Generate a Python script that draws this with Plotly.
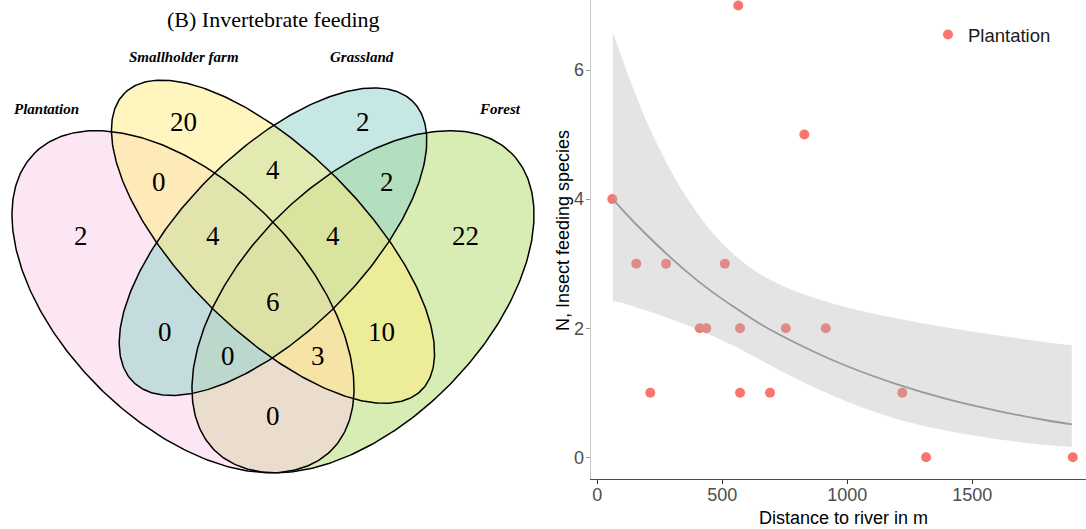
import numpy as np
import plotly.graph_objects as go

# ---------------- Venn diagram data ----------------
venn_title = "(B) Invertebrate feeding"
set_names = ["Plantation", "Smallholder farm", "Grassland", "Forest"]
# region counts (one per region of the four-set Venn)
region_counts = [20, 2, 0, 4, 2, 2, 4, 6, 4, 22, 0, 0, 0, 3, 10]

# ---------------- Scatter data ----------------
distance_m = [60, 156, 275, 510, 564, 828, 410, 436, 571, 754, 914, 212, 571, 691, 1220, 1315, 1902]
n_species = [4, 3, 3, 3, 7, 5, 2, 2, 2, 2, 2, 1, 1, 1, 1, 0, 0]

fit_x = [62, 150, 250, 350, 450, 550, 650, 800, 1000, 1200, 1400, 1600, 1800, 1898]
fit_y = [4.00, 3.63, 3.25, 2.90, 2.59, 2.32, 2.07, 1.76, 1.41, 1.13, 0.90, 0.72, 0.57, 0.51]

band_x = [62, 100, 150, 200, 275, 350, 450, 550, 650, 800, 1000, 1200, 1400, 1600, 1800, 1898]
band_upper = [6.58, 6.17, 5.65, 5.18, 4.58, 4.07, 3.53, 3.13, 2.84, 2.56, 2.32, 2.15, 2.01, 1.89, 1.78, 1.74]
band_lower = [2.42, 2.39, 2.33, 2.27, 2.17, 2.06, 1.90, 1.72, 1.51, 1.21, 0.86, 0.59, 0.41, 0.28, 0.19, 0.16]

x_ticks = [0, 500, 1000, 1500]
y_ticks = [0, 2, 4, 6]

# ---------------- Venn geometry (layout constants) ----------------
# ellipse: centre x, centre y, semi-major, semi-minor, rotation (deg)
ELL = {
    "Plantation": (0.35, 0.47, 0.35, 0.20, 135),
    "Smallholder farm": (0.50, 0.57, 0.35, 0.15, 135),
    "Grassland": (0.50, 0.57, 0.33, 0.15, 45),
    "Forest": (0.65, 0.47, 0.35, 0.20, 45),
}
FILL = {
    "Plantation": "rgba(251,205,231,0.5)",
    "Smallholder farm": "rgba(255,235,125,0.5)",
    "Grassland": "rgba(141,209,201,0.5)",
    "Forest": "rgba(177,219,105,0.5)",
}
DRAW_ORDER = ["Forest", "Plantation", "Grassland", "Smallholder farm"]
REGION_POS = [(0.35, 0.77), (0.65, 0.77), (0.31, 0.67), (0.50, 0.69), (0.69, 0.67),
              (0.18, 0.58), (0.40, 0.58), (0.50, 0.47), (0.60, 0.58), (0.82, 0.58),
              (0.32, 0.42), (0.425, 0.38), (0.50, 0.28), (0.575, 0.38), (0.68, 0.42)]
LABEL_POS = [(0.122, 0.791), (0.351, 0.878), (0.649, 0.878), (0.878, 0.791)]


def ellipse(cx, cy, a, b, rot):
    t = np.linspace(0, 2 * np.pi, 361)
    th = np.deg2rad(rot)
    x = cx + a * np.cos(t) * np.cos(th) - b * np.sin(t) * np.sin(th)
    y = cy + a * np.cos(t) * np.sin(th) + b * np.sin(t) * np.cos(th)
    return x, y


fig = go.Figure()

for name in DRAW_ORDER:
    ex, ey = ellipse(*ELL[name])
    fig.add_trace(go.Scatter(x=ex, y=ey, mode="lines", fill="toself", fillcolor=FILL[name],
                             line=dict(width=0), hoverinfo="skip", showlegend=False,
                             xaxis="x", yaxis="y"))
for name in set_names:
    ex, ey = ellipse(*ELL[name])
    fig.add_trace(go.Scatter(x=ex, y=ey, mode="lines", line=dict(color="black", width=1.5),
                             hoverinfo="skip", showlegend=False, xaxis="x", yaxis="y"))

annotations = []
serif = "Liberation Serif, Times New Roman, serif"
for cnt, (u, v) in zip(region_counts, REGION_POS):
    annotations.append(dict(x=u, y=v, xref="x", yref="y", text=str(cnt), showarrow=False,
                            xanchor="center", yanchor="middle",
                            font=dict(family=serif, size=27, color="black")))
for name, (u, v) in zip(set_names, LABEL_POS):
    annotations.append(dict(x=u, y=v, xref="x", yref="y", text="<b><i>%s</i></b>" % name,
                            showarrow=False, xanchor="center", yanchor="middle",
                            font=dict(family=serif, size=15, color="black")))
annotations.append(dict(x=0.5, y=0.9395, xref="x", yref="y", text=venn_title, showarrow=False,
                        xanchor="center", yanchor="middle",
                        font=dict(family=serif, size=22, color="black")))

# ---------------- Scatter panel ----------------
sans = "Liberation Sans, Arial, sans-serif"
fig.add_trace(go.Scatter(x=distance_m, y=n_species, mode="markers", name="Plantation",
                         marker=dict(color="#F8766D", size=10, line=dict(width=0)),
                         xaxis="x2", yaxis="y2", showlegend=True))
fig.add_trace(go.Scatter(x=band_x, y=band_lower, mode="lines", line=dict(width=0, shape="spline"),
                         hoverinfo="skip", showlegend=False, xaxis="x2", yaxis="y2"))
fig.add_trace(go.Scatter(x=band_x, y=band_upper, mode="lines", line=dict(width=0, shape="spline"),
                         fill="tonexty", fillcolor="rgba(180,180,180,0.36)",
                         hoverinfo="skip", showlegend=False, xaxis="x2", yaxis="y2"))
fig.add_trace(go.Scatter(x=fit_x, y=fit_y, mode="lines", line=dict(color="#999999", width=1.8, shape="spline"),
                         hoverinfo="skip", showlegend=False, xaxis="x2", yaxis="y2"))

annotations.append(dict(x=843 / 1086, y=1 - 518 / 529, xref="paper", yref="paper",
                        text="Distance to river in m", showarrow=False,
                        xanchor="center", yanchor="middle",
                        font=dict(family=sans, size=18, color="black")))
annotations.append(dict(x=563 / 1086, y=1 - 231 / 529, xref="paper", yref="paper",
                        text="N, Insect feeding species", showarrow=False, textangle=-90,
                        xanchor="center", yanchor="middle",
                        font=dict(family=sans, size=18, color="black")))

fig.update_layout(
    width=1086, height=529,
    margin=dict(l=0, r=0, t=0, b=0),
    paper_bgcolor="white", plot_bgcolor="white",
    xaxis=dict(domain=[0, 0.5], range=[0.045, 0.95], visible=False, fixedrange=True),
    yaxis=dict(domain=[0, 1], range=[0.0912, 0.9728], visible=False, fixedrange=True),
    xaxis2=dict(domain=[590.7 / 1086, 1], range=[-26.4, 1954.8], anchor="y2",
                tickvals=x_ticks, ticks="outside", ticklen=4, tickwidth=1, tickcolor="#333333",
                ticklabelstandoff=-5,
                showline=True, linecolor="#4D4D4D", linewidth=1.2, showgrid=False, zeroline=False,
                tickfont=dict(family=sans, size=18, color="#4D4D4D")),
    yaxis2=dict(domain=[(529 - 479.3) / 529, 1], range=[-0.341, 7.085], anchor="x2",
                tickvals=y_ticks, ticks="outside", ticklen=4, tickwidth=1, tickcolor="#999999",
                ticklabelstandoff=-2,
                showline=True, linecolor="#C4C4C4", linewidth=1.2, showgrid=False, zeroline=False,
                tickfont=dict(family=sans, size=18, color="#4D4D4D")),
    legend=dict(x=928 / 1086, y=1 - 35 / 529, xanchor="left", yanchor="middle",
                bgcolor="rgba(0,0,0,0)", font=dict(family=sans, size=18.5, color="#1A1A1A")),
    annotations=annotations,
    showlegend=True,
)

fig.write_html("out.html")
